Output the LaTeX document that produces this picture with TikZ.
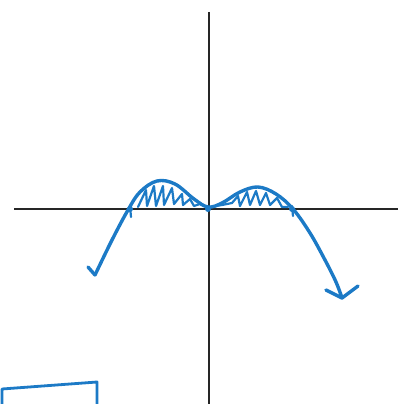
\documentclass[tikz,border=0pt]{standalone}
\definecolor{pen}{RGB}{28,122,198}
\tikzset{
  axis/.style={line width=1.8pt, draw=black!85},
  pencurve/.style={line width=3.4pt, draw=pen, line cap=round, line join=round},
  hatch/.style={line width=2.2pt, draw=pen, line cap=round, line join=round}
}
\begin{document}
\begin{tikzpicture}[x=1pt,y=-1pt]
\useasboundingbox (0,0) rectangle (398,404);
% axes
\coordinate (ytop) at (209,12);
\coordinate (ybot) at (209,404);
\coordinate (xl) at (14,209);
\coordinate (xr) at (398,209);
\draw[axis] (ytop) -- (ybot);
\draw[axis] (xl) -- (xr);
% hatching left lobe
\draw[hatch] (138,207) -- (146,190) -- (147,206) -- (154,186) -- (156,206) -- (163,186) -- (164,205) -- (172,188) -- (174,204) -- (182,194) -- (183,205) -- (190,199) -- (194,206) -- (200,204) -- (207,207);
% hatching right lobe
\draw[hatch] (210,207) -- (222,205) -- (232,203) -- (238,196) -- (240,206) -- (247,192) -- (250,205) -- (256,191) -- (260,205) -- (266,193) -- (270,205) -- (277,198) -- (282,207) -- (288,207);
% curve
\coordinate (ltip) at (95,275);
\coordinate (rtip) at (342,298);
\draw[pencurve] plot[smooth, tension=0.6] coordinates {(95,275) (112,240) (128,210) (140,192) (157,181) (175,184) (194,199) (208,207) (222,203) (240,192) (258,187) (276,194) (293,209) (310,233) (325,260) (336,282) (342,298)};
% arrowheads
\draw[pencurve] (ltip) -- (88,267);
\draw[pencurve] (326,290) -- (rtip) -- (358,286);
% crossing marks
\fill[pen] (130,209) circle (3pt);
\fill[pen] (208,209) circle (3pt);
\fill[pen] (292,209) circle (3pt);
\draw[hatch] (130,206) -- (131,217);
\draw[hatch] (292,206) -- (293,216);
% rectangle at bottom left
\coordinate (r1) at (2,404);
\coordinate (r2) at (2,389);
\coordinate (r3) at (97,382);
\coordinate (r4) at (97,404);
\draw[pencurve, line width=2.8pt] (r1) -- (r2) -- (r3) -- (r4);
\end{tikzpicture}
\end{document}
